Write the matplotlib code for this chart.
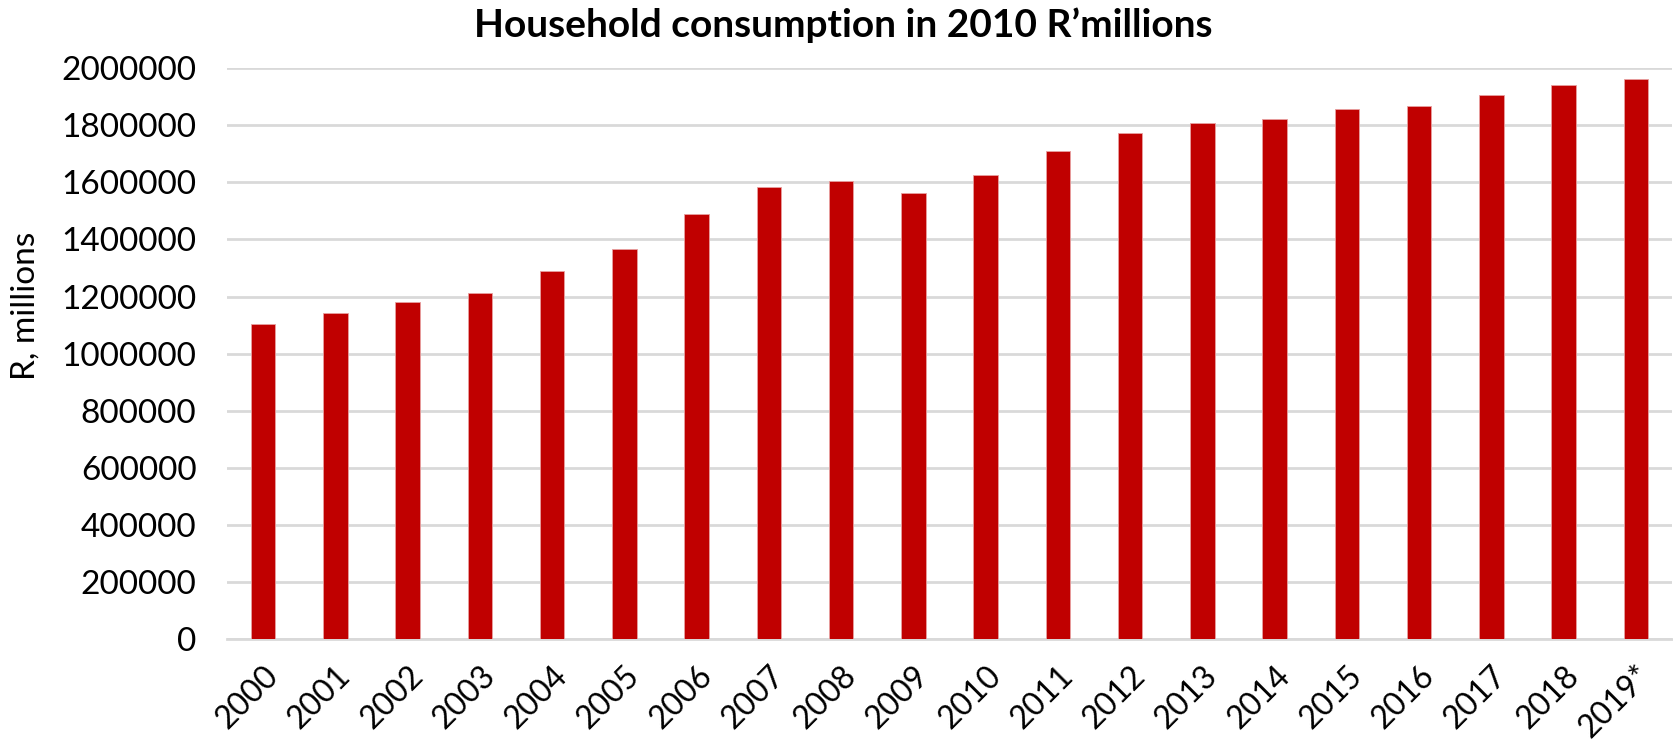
import matplotlib
matplotlib.use("Agg")
import matplotlib.pyplot as plt

plt.rcParams['font.family'] = ['Lato', 'DejaVu Sans']

# household consumption, constant 2010 prices
years = ["2000", "2001", "2002", "2003", "2004", "2005", "2006", "2007", "2008", "2009",
         "2010", "2011", "2012", "2013", "2014", "2015", "2016", "2017", "2018", "2019*"]
consumption = [1105000, 1144000, 1180000, 1214000, 1290000, 1368000, 1489000, 1585000,
               1606000, 1563000, 1625000, 1709000, 1771000, 1806000, 1821000, 1856000,
               1868000, 1905000, 1940000, 1960000]
yticks = list(range(0, 2000001, 200000))

fig = plt.figure(figsize=(16.73, 7.41), dpi=100)
ax = fig.add_axes([227 / 1673, 1 - 639.3 / 741, (1672 - 227) / 1673, (639.3 - 68) / 741])

ax.bar(range(len(years)), consumption, width=0.34, color="#C00000",
       edgecolor="#E8A0A0", linewidth=0.6, zorder=3)

ax.set_xlim(-0.5, len(years) - 0.5)
ax.set_ylim(0, 2000000)
ax.set_yticks(yticks)
ax.set_yticklabels([str(v) for v in yticks], fontsize=24)
ax.yaxis.grid(True, color="#D9D9D9", linewidth=2.0, zorder=0)
ax.tick_params(axis="y", length=0, pad=22)

ax.set_xticks(range(len(years)))
ax.set_xticklabels(years, fontsize=23, rotation=45, ha="right", rotation_mode="anchor")
ax.tick_params(axis="x", length=0, pad=15)

for s in ["top", "right", "left"]:
    ax.spines[s].set_visible(False)
ax.spines["bottom"].set_color("#D9D9D9")
ax.spines["bottom"].set_linewidth(2.0)

fig.text(26 / 1673, 1 - 306 / 741, "R, millions", rotation=90, fontsize=24,
         ha="center", va="center")
fig.text(843 / 1673, 1 - 25 / 741, "Household consumption in 2010 R\u2019millions",
         fontsize=28, fontweight="bold", ha="center", va="center")

fig.savefig("out.png", dpi=100)
